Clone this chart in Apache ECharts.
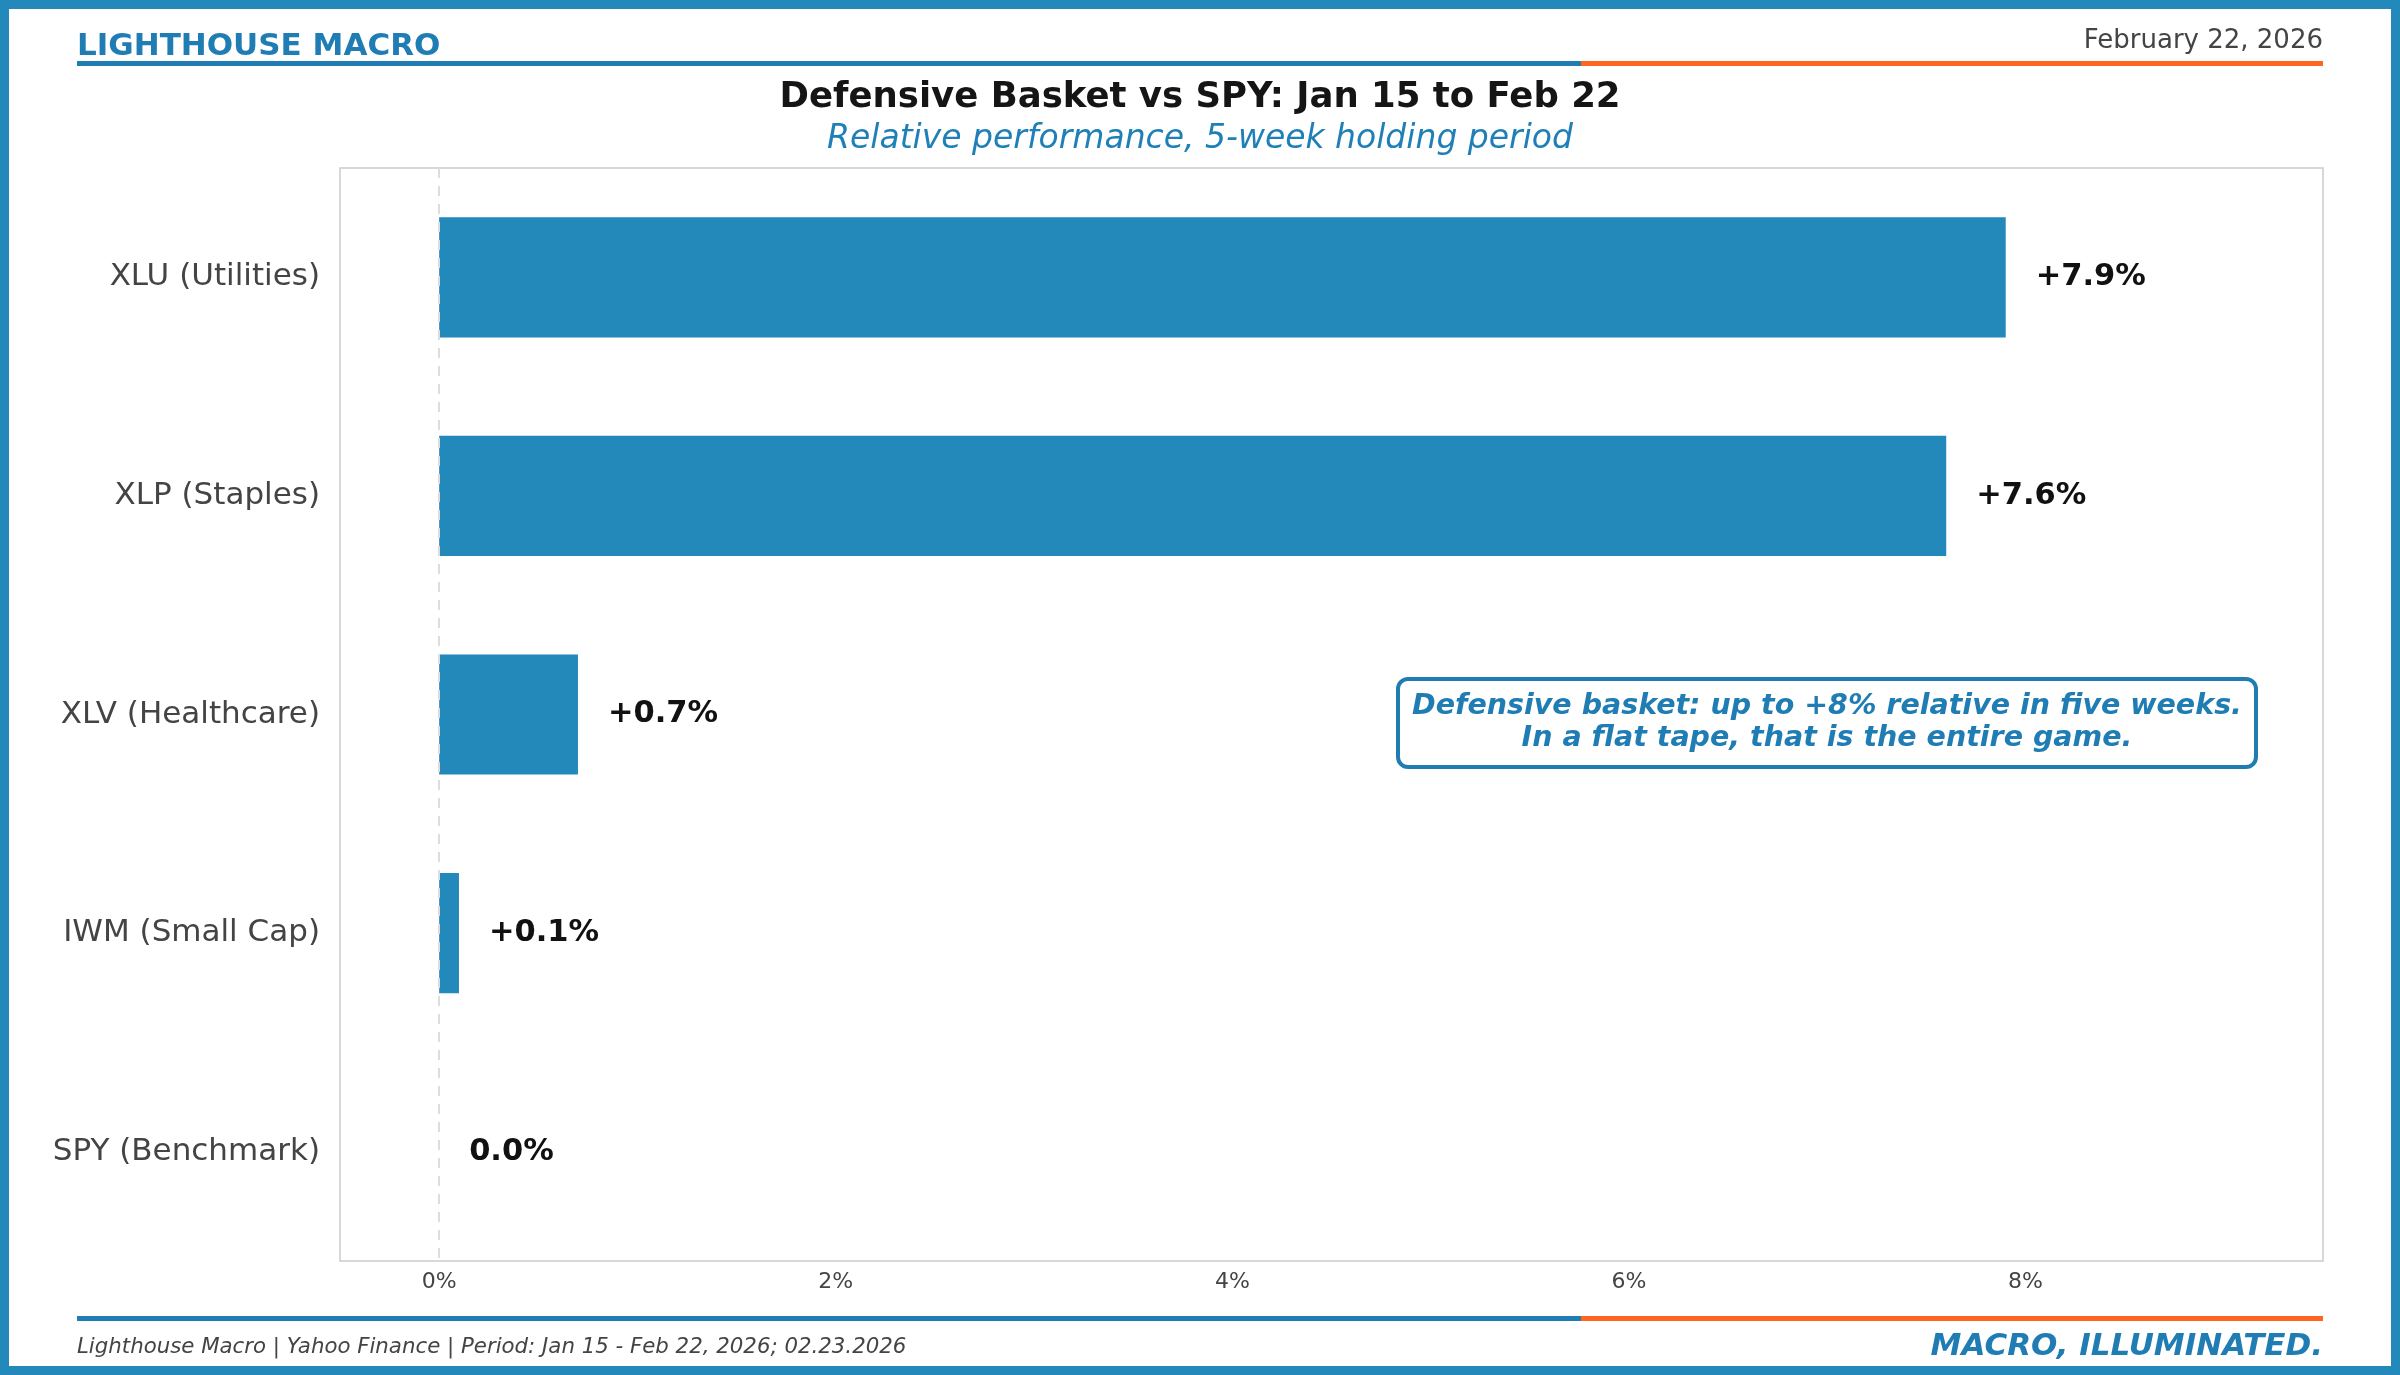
<!DOCTYPE html>
<html>
<head>
<meta charset="utf-8">
<script src="https://cdn.jsdelivr.net/npm/echarts@6/dist/echarts.min.js"></script>
<style>
html,body{margin:0;padding:0;background:#fff;}
#chart{width:2400px;height:1375px;}
</style>
</head>
<body>
<div id="chart"></div>
<script>
const categories = ['XLU (Utilities)', 'XLP (Staples)', 'XLV (Healthcare)', 'IWM (Small Cap)', 'SPY (Benchmark)'];
const relPerf = [7.9, 7.6, 0.7, 0.1, 0.0];
const xTicks = [0, 2, 4, 6, 8];

const BLUE = '#2389BA';
const DBLUE = '#1F7DB4';
const ORANGE = '#FF6420';
const FONT = 'DejaVu Sans';

const chart = echarts.init(document.getElementById('chart'), null, {renderer: 'canvas'});

const option = {
  backgroundColor: '#fff',
  textStyle: {fontFamily: FONT},
  animation: false,
  title: [
    {text: 'Defensive Basket vs SPY: Jan 15 to Feb 22', left: 'center', top: 75,
     textStyle: {fontFamily: FONT, fontSize: 35.5, fontWeight: 'bold', color: '#151515'}},
    {text: 'Relative performance, 5-week holding period', left: 'center', top: 118,
     textStyle: {fontFamily: FONT, fontSize: 33, fontStyle: 'italic', fontWeight: 'normal', color: '#1F80B8'}}
  ],
  grid: {left: 340, top: 168, right: 77, bottom: 114, show: true, borderColor: '#cccccc', borderWidth: 1.5, backgroundColor: 'transparent'},
  xAxis: {
    type: 'value', min: -0.5, max: 9.5,
    axisLine: {show: false}, axisTick: {show: false}, splitLine: {show: false},
    axisLabel: {customValues: xTicks, formatter: v => v + '%', fontSize: 22, color: '#444', margin: 10, fontFamily: FONT}
  },
  yAxis: {
    type: 'category', data: categories, inverse: true,
    axisLine: {show: false}, axisTick: {show: false}, splitLine: {show: false},
    axisLabel: {fontSize: 31, color: '#444', margin: 20, fontFamily: FONT}
  },
  series: [{
    type: 'bar', data: relPerf, barWidth: '55%',
    itemStyle: {color: BLUE},
    label: {show: true, position: 'right', distance: 30, fontSize: 30.5, fontWeight: 'bold', color: '#111', fontFamily: FONT,
      formatter: p => (p.value > 0 ? '+' : '') + p.value.toFixed(1) + '%'},
    markLine: {silent: true, symbol: 'none', label: {show: false},
      lineStyle: {type: [10, 8], color: '#dddddd', width: 2},
      data: [{xAxis: 0}]}
  }],
  graphic: [
    {type: 'rect', shape: {x: 4.5, y: 4.5, width: 2391, height: 1366}, style: {fill: 'none', stroke: BLUE, lineWidth: 9}, silent: true},
    {type: 'text', left: 77, top: 31, style: {text: 'LIGHTHOUSE MACRO', font: 'bold 31px "DejaVu Sans"', fill: DBLUE}},
    {type: 'text', right: 77, top: 28, style: {text: 'February 22, 2026', font: '26px "DejaVu Sans"', fill: '#444'}},
    {type: 'rect', shape: {x: 77, y: 61, width: 1504, height: 5}, style: {fill: DBLUE}},
    {type: 'rect', shape: {x: 1581, y: 61, width: 742, height: 5}, style: {fill: ORANGE}},
    {type: 'rect', shape: {x: 77, y: 1316, width: 1504, height: 5}, style: {fill: DBLUE}},
    {type: 'rect', shape: {x: 1581, y: 1316, width: 742, height: 5}, style: {fill: ORANGE}},
    {type: 'text', left: 77, top: 1337, style: {text: 'Lighthouse Macro | Yahoo Finance | Period: Jan 15 - Feb 22, 2026; 02.23.2026', font: 'italic 21.3px "DejaVu Sans"', fill: '#444'}},
    {type: 'text', right: 77, top: 1331, style: {text: 'MACRO, ILLUMINATED.', font: 'italic bold 31px "DejaVu Sans"', fill: DBLUE}},
    {type: 'rect', shape: {x: 1398, y: 679, width: 858, height: 88, r: 10}, style: {fill: '#fff', stroke: DBLUE, lineWidth: 4}},
    {type: 'text', x: 1827, y: 723, style: {text: 'Defensive basket: up to +8% relative in five weeks.\nIn a flat tape, that is the entire game.',
      font: 'italic bold 28.5px "DejaVu Sans"', fill: DBLUE, align: 'center', verticalAlign: 'middle', lineHeight: 32}}
  ]
};
chart.setOption(option);
</script>
</body>
</html>
